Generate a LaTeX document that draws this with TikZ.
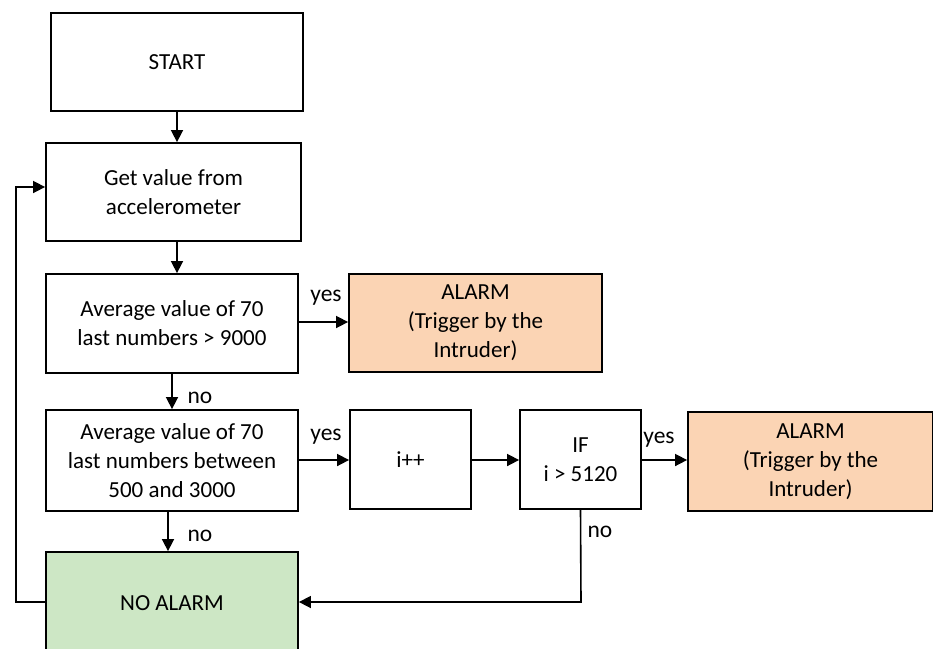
\documentclass[tikz,border=0pt]{standalone}
\usepackage{fontspec}
\setmainfont{Carlito}
\usetikzlibrary{arrows.meta}
\definecolor{peach}{HTML}{FBD4B4}
\definecolor{mint}{HTML}{CDE7C5}
\begin{document}
\begin{tikzpicture}[x=1pt,y=-1pt,
  box/.style={draw=black,line width=1.8pt,align=center,font=\fontsize{23}{29}\selectfont,inner sep=0pt},
  conn/.style={line width=1.6pt,-{Triangle[length=12pt,width=12pt]}},
  lbl/.style={font=\fontsize{23.5}{28}\selectfont,inner sep=0pt}]
\useasboundingbox (0,0) rectangle (933,648);
\begin{scope}
\clip (0,0) rectangle (933,648);
\node[box,minimum width=252pt,minimum height=98pt] (start) at (177,62) {START};
\node[box,minimum width=255pt,minimum height=98pt] (get) at (173.5,192) {Get value from\\accelerometer};
\node[box,minimum width=252pt,minimum height=99pt] (avg1) at (172,323.5) {Average value of 70\\last numbers > 9000};
\node[box,fill=peach,minimum width=253pt,minimum height=98pt] (al1) at (475.5,323) {ALARM\\(Trigger by the\\Intruder)};
\node[box,minimum width=252pt,minimum height=101pt] (avg2) at (172,460.5) {Average value of 70\\last numbers between\\500 and 3000};
\node[box,minimum width=121pt,minimum height=99pt] (inc) at (410.5,459.5) {i++};
\node[box,minimum width=121pt,minimum height=99pt] (cond) at (580.5,459.5) {IF\\i > 5120};
\node[box,fill=peach,minimum width=245pt,minimum height=99pt] (al2) at (810.5,461.5) {ALARM\\(Trigger by the\\Intruder)};
\node[box,fill=mint,minimum width=252pt,minimum height=104pt] (none) at (172,604) {};
\node[font=\fontsize{23}{29}\selectfont] (nonetxt) at (172,603) {NO ALARM};
\end{scope}
\draw[conn] (start.south) -- (get.north -| start.south);
\draw[conn] (get.south -| 177,0) -- (avg1.north -| 177,0);
\draw[conn] (avg1.east |- 0,322) -- (al1.west |- 0,322);
\node[lbl] (y1) at (326,298) {yes};
\draw[conn] (avg1.south) -- (avg2.north);
\node[lbl] (n1) at (200,398) {no};
\draw[conn] (avg2.east |- 0,460) -- (inc.west |- 0,460);
\node[lbl] (y2) at (326,437) {yes};
\draw[conn] (inc.east |- 0,460) -- (cond.west |- 0,460);
\draw[conn] (cond.east |- 0,460) -- (al2.west |- 0,460);
\node[lbl] (y3) at (659,440) {yes};
\draw[conn] (avg2.south -| 168,0) -- (none.north -| 168,0);
\node[lbl] (n2) at (200,536) {no};
\coordinate (c1) at (581,602);
\draw[conn] (cond.south) -- (c1) -- (none.east |- c1);
\node[lbl] (n3) at (600,532) {no};
\coordinate (c2) at (16,602);
\coordinate (c3) at (16,187);
\draw[conn] (none.west |- c2) -- (c2) -- (c3) -- (get.west |- c3);
\end{tikzpicture}
\end{document}
